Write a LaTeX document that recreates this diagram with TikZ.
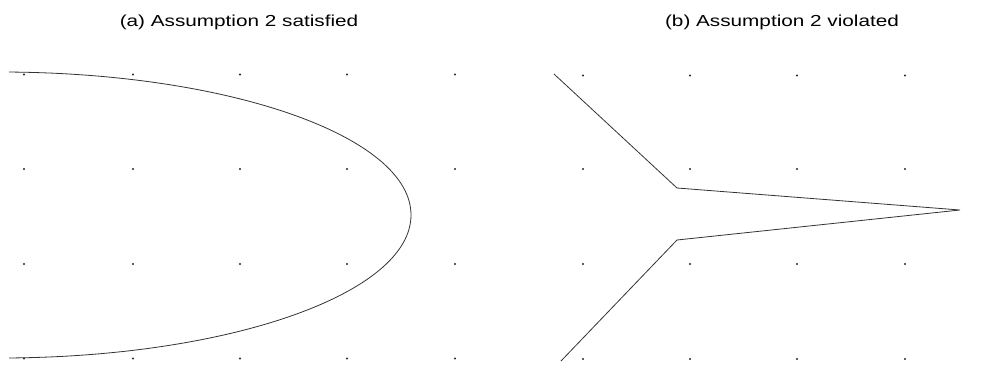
\documentclass[tikz,border=0pt]{standalone}
\usepackage{fontspec}
\setmainfont{Liberation Sans}
\begin{document}
\begin{tikzpicture}[x=1bp,y=-1bp,
  gdot/.style={fill=black!85,draw=none},
  curveline/.style={draw=black!80,line width=0.8bp},
  title/.style={font=\fontsize{16}{19}\selectfont,inner sep=0pt,anchor=base,xscale=1.3}]
\useasboundingbox (0,0) rectangle (1006,364);
% titles
\node[title] (ta) at (239,26) {(a) Assumption 2 satisfied};
\node[title] (tb) at (782,26) {(b) Assumption 2 violated};
% left grid
\foreach \x in {24,133,240,347,455}
  \foreach \y in {74.5,169,264,358.5}
    \fill[gdot] (\x,\y) circle (1.1bp);
% right grid
\foreach \x in {583,690,797,905}
  \foreach \y in {75.5,169,264,359}
    \fill[gdot] (\x,\y) circle (1.1bp);
% left curve (half ellipse), starting at x = 9
\begin{scope}
\clip (9,0) rectangle (1006,364);
\coordinate (top) at (0,72);
\draw[curveline] (top) arc[start angle=-90,end angle=90,x radius=411,y radius=143];
\end{scope}
% right polyline
\coordinate (p1) at (554,74);
\coordinate (p2) at (677,188);
\coordinate (p3) at (960,210);
\coordinate (p4) at (677,240);
\coordinate (p5) at (561,361);
\draw[curveline,line join=miter] (p1) -- (p2) -- (p3) -- (p4) -- (p5);
\end{tikzpicture}
\end{document}
